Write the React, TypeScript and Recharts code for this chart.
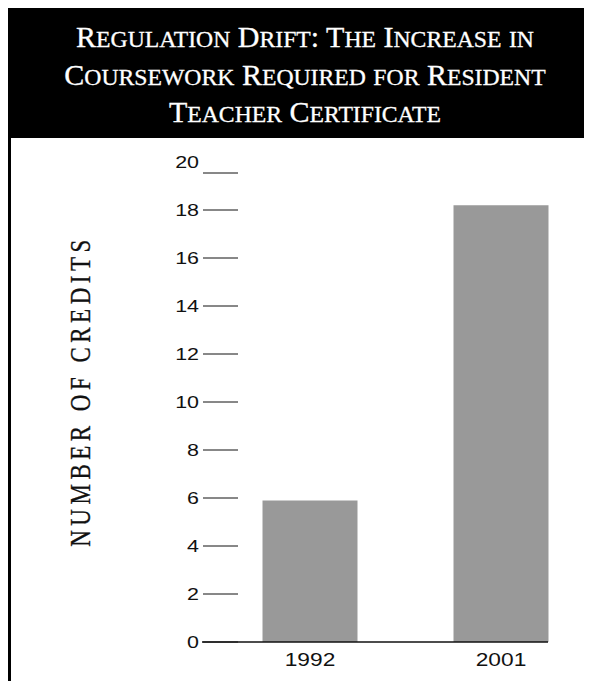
import React from 'react';
import { BarChart, Bar, XAxis, YAxis } from 'recharts';

const years = ['1992', '2001'];
const credits = [5.9, 18.2];
const yTicks = [0, 2, 4, 6, 8, 10, 12, 14, 16, 18, 20];
const titleLines = [
  'Regulation Drift: The Increase in',
  'Coursework Required for Resident',
  'Teacher Certificate',
];
const yLabel = 'NUMBER OF CREDITS';

const data = years.map((y, i) => ({ year: y, credits: credits[i] }));

function SmallCaps({ text }: { text: string }) {
  const parts: React.ReactNode[] = [];
  const isUp = (c: string) => c !== c.toLowerCase() || c === ':' || c === ' ';
  let i = 0;
  while (i < text.length) {
    const up = isUp(text[i]);
    let j = i;
    while (j < text.length && isUp(text[j]) === up) j++;
    const chunk = text.slice(i, j);
    parts.push(
      up ? (
        <span key={i}>{chunk}</span>
      ) : (
        <span key={i} style={{ fontSize: '79%', textTransform: 'uppercase' }}>
          {chunk}
        </span>
      )
    );
    i = j;
  }
  return <>{parts}</>;
}

const YTick = (props: any) => {
  const { x, y, payload } = props;
  const v = payload.value;
  const ly = v === 20 ? y + 11 : y;
  return (
    <g>
      <text
        transform={`translate(${x - 3},${y + 6}) scale(1.3,1)`}
        textAnchor="end"
        fontSize={16.5}
        fontFamily="Liberation Sans, Arial, sans-serif"
        fill="#111"
      >
        {v}
      </text>
      <line x1={x + 1} x2={x + 36} y1={ly} y2={ly} stroke="#111" strokeWidth={1} />
    </g>
  );
};

const XTick = (props: any) => {
  const { x, y, payload } = props;
  return (
    <text
      transform={`translate(${x},${y + 24}) scale(1.3,1)`}
      textAnchor="middle"
      fontSize={17.5}
      fontFamily="Liberation Sans, Arial, sans-serif"
      fill="#111"
    >
      {payload.value}
    </text>
  );
};

export default function App() {
  const lineTops = [14, 52, 89];
  return (
    <div style={{ position: 'relative', width: 584, height: 673, overflow: 'hidden' }}>
      <div
        style={{
          position: 'absolute',
          left: 0,
          top: 0,
          width: 584,
          height: 130,
          background: '#000',
        }}
      />
      {titleLines.map((t, i) => (
        <div
          key={i}
          style={{
            position: 'absolute',
            left: 0,
            top: lineTops[i],
            width: 594,
            textAlign: 'center',
            color: '#fff',
            fontFamily: '"Liberation Serif", "DejaVu Serif", serif',
            fontSize: 30,
            lineHeight: '30px',
            whiteSpace: 'nowrap',
            WebkitTextStroke: '0.3px #fff',
          }}
        >
          <SmallCaps text={t} />
        </div>
      ))}
      <div
        style={{
          position: 'absolute',
          left: 0,
          top: 130,
          width: 3,
          height: 543,
          background: '#000',
        }}
      />
      <div style={{ position: 'absolute', left: 0, top: 130 }}>
        <BarChart
          width={584}
          height={543}
          data={data}
          margin={{ top: 24, right: 44, bottom: 0, left: 0 }}
        >
          <XAxis
            dataKey="year"
            padding={{ left: 12.5, right: -48.5 }}
            tickLine={false}
            axisLine={{ stroke: '#111', strokeWidth: 1.4 }}
            tickSize={0}
            tickMargin={0}
            height={39}
            tick={<XTick />}
            interval={0}
          />
          <YAxis
            domain={[0, 20]}
            ticks={yTicks}
            interval={0}
            width={194}
            tickLine={false}
            axisLine={false}
            tickSize={0}
            tickMargin={0}
            tick={<YTick />}
          />
          <Bar dataKey="credits" fill="#999999" barSize={95} isAnimationActive={false} />
        </BarChart>
      </div>
      <svg
        width={584}
        height={673}
        style={{ position: 'absolute', left: 0, top: 0, pointerEvents: 'none' }}
      >
        <text
          transform="translate(82,383) scale(1.3,1) rotate(-90)"
          textAnchor="middle"
          fontSize={23}
          letterSpacing={4.5}
          fontFamily='"Liberation Serif", "DejaVu Serif", serif'
          fill="#111"
          stroke="#111"
          strokeWidth={0.25}
        >
          {yLabel}
        </text>
      </svg>
    </div>
  );
}
